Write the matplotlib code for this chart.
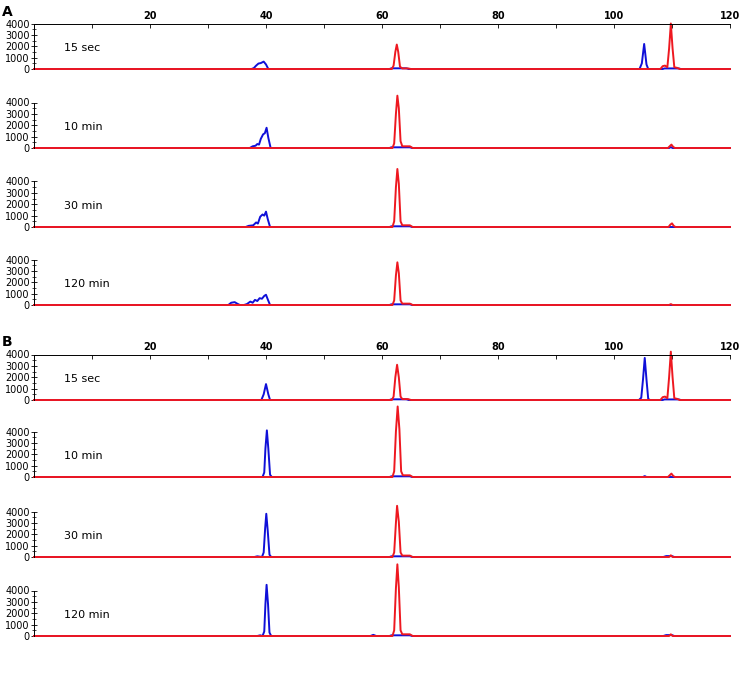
import matplotlib
matplotlib.use("Agg")
import matplotlib.pyplot as plt
from matplotlib.ticker import MultipleLocator

plt.rcParams['font.family'] = ['DejaVu Sans']

BLUE = '#1010d8'
RED = '#ee1820'

time_labels = ["15 sec", "10 min", "30 min", "120 min"]

# (x, y) points, panel A
a_blue = [
    [(0, 0), (37.5, 0), (37.9, 80), (38.3, 300), (38.7, 480), (39.1, 520), (39.6, 650), (40.0, 400), (40.4, 0),
     (61.3, 0), (61.6, 60), (64.2, 60), (64.6, 0), (104.4, 0), (104.8, 500), (105.2, 2200), (105.6, 400),
     (105.9, 0), (108.4, 0), (108.7, 50), (111.2, 50), (111.5, 0), (120, 0)],
    [(0, 0), (37.2, 0), (37.7, 150), (38.2, 200), (38.5, 350), (38.8, 300), (39.1, 800), (39.5, 1200),
     (39.8, 1300), (40.1, 1780), (40.4, 900), (40.8, 0), (61.3, 0), (61.6, 60), (64.8, 60), (65.2, 0),
     (109.5, 0), (109.8, 80), (110.1, 0), (120, 0)],
    [(0, 0), (36.5, 0), (37.0, 100), (37.8, 150), (38.3, 400), (38.6, 300), (39.0, 900), (39.4, 1100),
     (39.7, 1000), (40.0, 1350), (40.3, 700), (40.7, 0), (61.3, 0), (61.6, 60), (64.8, 60), (65.2, 0), (120, 0)],
    [(0, 0), (33.5, 0), (34.0, 200), (34.6, 250), (35.1, 100), (35.5, 0), (36.2, 0), (36.7, 80), (37.3, 300),
     (37.7, 200), (38.1, 450), (38.5, 350), (38.9, 600), (39.3, 550), (39.7, 800), (40.0, 900), (40.3, 500),
     (40.7, 0), (61.3, 0), (61.6, 60), (64.8, 60), (65.2, 0), (120, 0)],
]
a_red = [
    [(0, 0), (61.7, 0), (62.0, 300), (62.3, 1500), (62.55, 2150), (62.8, 1500), (63.1, 200), (63.5, 50),
     (64.5, 50), (65, 0), (108.0, 0), (108.4, 250), (108.8, 300), (109.2, 150), (109.5, 1800), (109.8, 4000),
     (110.1, 1800), (110.4, 150), (110.9, 100), (111.3, 0), (120, 0)],
    [(0, 0), (61.8, 0), (62.1, 400), (62.4, 3000), (62.65, 4600), (62.9, 3500), (63.2, 600), (63.5, 150),
     (64.8, 150), (65.3, 0), (109.3, 0), (109.6, 150), (109.9, 300), (110.2, 100), (110.5, 0), (120, 0)],
    [(0, 0), (61.8, 0), (62.1, 500), (62.4, 3500), (62.65, 5100), (62.9, 3800), (63.2, 500), (63.5, 150),
     (64.8, 150), (65.3, 0), (109.4, 0), (109.7, 200), (110.0, 320), (110.3, 100), (110.6, 0), (120, 0)],
    [(0, 0), (61.8, 0), (62.1, 400), (62.4, 2600), (62.65, 3750), (62.9, 2800), (63.2, 400), (63.5, 120),
     (64.8, 120), (65.3, 0), (109.5, 0), (109.8, 80), (110.1, 0), (120, 0)],
]

# panel B
b_blue = [
    [(0, 0), (39.2, 0), (39.6, 500), (40.0, 1400), (40.4, 500), (40.7, 0), (61.3, 0), (61.6, 60), (64.2, 60),
     (64.6, 0), (104.3, 0), (104.7, 200), (105.0, 1800), (105.3, 3700), (105.6, 1800), (105.9, 100),
     (106.2, 0), (108.4, 0), (108.7, 50), (111.2, 50), (111.5, 0), (120, 0)],
    [(0, 0), (39.4, 0), (39.7, 400), (39.9, 2500), (40.15, 4100), (40.4, 2500), (40.7, 200), (41.0, 0),
     (61.3, 0), (61.6, 60), (64.8, 60), (65.2, 0), (105.0, 0), (105.3, 80), (105.6, 0), (120, 0)],
    [(0, 0), (38.0, 0), (38.5, 60), (39.3, 0), (39.6, 400), (39.85, 2500), (40.05, 3800), (40.3, 2300),
     (40.6, 200), (40.9, 0), (61.3, 0), (61.6, 60), (64.8, 60), (65.2, 0), (108.5, 0), (109.0, 80),
     (110.0, 80), (110.4, 0), (120, 0)],
    [(0, 0), (38.5, 0), (39.0, 60), (39.4, 0), (39.7, 400), (39.9, 2800), (40.1, 4500), (40.35, 2800),
     (40.6, 300), (40.9, 0), (58.0, 0), (58.5, 100), (59.0, 0), (61.3, 0), (61.6, 60), (64.8, 60), (65.2, 0),
     (108.5, 0), (109.0, 80), (110.0, 80), (110.4, 0), (120, 0)],
]
b_red = [
    [(0, 0), (61.7, 0), (62.0, 300), (62.3, 2000), (62.6, 3100), (62.9, 2000), (63.2, 300), (63.5, 80),
     (64.5, 80), (65, 0), (108.0, 0), (108.4, 250), (108.8, 300), (109.2, 150), (109.5, 2000), (109.8, 4250),
     (110.1, 2000), (110.4, 150), (110.9, 100), (111.3, 0), (120, 0)],
    [(0, 0), (61.8, 0), (62.1, 500), (62.4, 4000), (62.7, 6200), (63.0, 4200), (63.3, 500), (63.6, 150),
     (64.8, 150), (65.3, 0), (109.3, 0), (109.6, 150), (109.9, 300), (110.2, 100), (110.5, 0), (120, 0)],
    [(0, 0), (61.8, 0), (62.1, 400), (62.4, 3000), (62.6, 4500), (62.9, 3100), (63.2, 400), (63.5, 120),
     (64.8, 120), (65.3, 0), (109.5, 0), (109.8, 150), (110.1, 0), (120, 0)],
    [(0, 0), (61.8, 0), (62.1, 500), (62.4, 4200), (62.65, 6300), (62.9, 4300), (63.2, 500), (63.5, 150),
     (64.8, 150), (65.3, 0), (109.5, 0), (109.8, 150), (110.1, 0), (120, 0)],
]

W, H = 741, 679
fig = plt.figure(figsize=(W / 100, H / 100), dpi=100)

ax_left = 34 / W
ax_width = 696 / W
ax_h = 45.5 / H
zero_rows = {"A": [69, 148, 227, 305], "B": [400, 477, 557, 636]}
panel_data = {"A": (a_blue, a_red), "B": (b_blue, b_red)}


def draw_panel(name):
    blues, reds = panel_data[name]
    for i, y0 in enumerate(zero_rows[name]):
        ax = fig.add_axes([ax_left, 1 - y0 / H, ax_width, ax_h])
        bx, by = zip(*blues[i])
        rx, ry = zip(*reds[i])
        ax.plot(bx, by, color=BLUE, lw=1.4, clip_on=False)
        ax.plot(rx, ry, color=RED, lw=1.4, clip_on=False)
        ax.set_xlim(0, 120)
        ax.set_ylim(0, 4000)
        ax.spines['right'].set_visible(False)
        ax.spines['bottom'].set_visible(False)
        ax.spines['left'].set_linewidth(0.7)
        ax.yaxis.set_major_locator(MultipleLocator(1000))
        ax.yaxis.set_minor_locator(MultipleLocator(500))
        ax.tick_params(axis='y', which='major', direction='inout', length=4, width=0.6, labelsize=7, pad=1)
        ax.tick_params(axis='y', which='minor', direction='inout', length=2.5, width=0.5)
        if i == 0:
            ax.spines['top'].set_linewidth(0.7)
            ax.xaxis.tick_top()
            ax.xaxis.set_major_locator(MultipleLocator(20))
            ax.xaxis.set_minor_locator(MultipleLocator(10))
            ax.set_xticks([20, 40, 60, 80, 100, 120])
            ax.tick_params(axis='x', which='both', direction='in', length=3, width=0.6,
                           labelsize=7, pad=2)
            for t in ax.get_xticklabels():
                t.set_fontweight('bold')
        else:
            ax.spines['top'].set_visible(False)
            ax.set_xticks([])
        ax.text(5.2, 1850, time_labels[i], fontsize=8, va='center', ha='left')


draw_panel("A")
draw_panel("B")

fig.text(2 / W, 1 - 12 / H, "A", fontsize=10, fontweight='bold', va='center', ha='left')
fig.text(2 / W, 1 - 342 / H, "B", fontsize=10, fontweight='bold', va='center', ha='left')

fig.savefig("out.png", dpi=100)
